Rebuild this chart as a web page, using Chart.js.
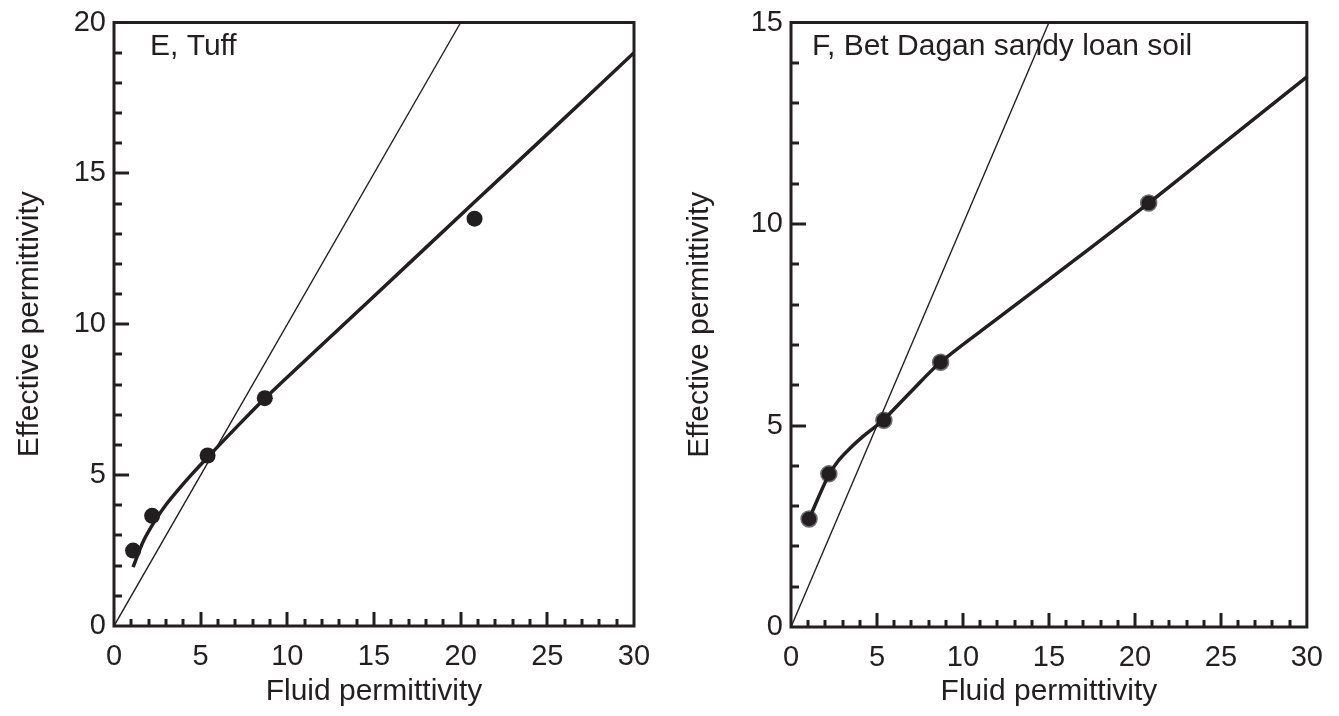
<!DOCTYPE html>
<html><head><meta charset="utf-8">
<script src="https://cdn.jsdelivr.net/npm/chart.js@4.4.1/dist/chart.umd.min.js"></script>
<style>
html,body{margin:0;padding:0;background:#fff;}
#wrap{position:relative;width:1339px;height:716px;overflow:hidden;}
canvas{position:absolute;top:0;}
</style></head><body>
<div id="wrap">
<canvas id="c1" width="670" height="716" style="left:0"></canvas>
<canvas id="c2" width="669" height="716" style="left:670px"></canvas>
</div>
<script>
// ---- data ----
const xTickLabels = [0, 5, 10, 15, 20, 25, 30];
const yTickLabelsE = [0, 5, 10, 15, 20];
const yTickLabelsF = [0, 5, 10, 15];

// Panel E, Tuff
const fluidE = [1.1, 2.2, 5.4, 8.7, 20.8];
const effE   = [2.5, 3.65, 5.65, 7.55, 13.5];
const fitXE  = [1.1, 1.7, 2.4, 3.0, 3.8, 4.6, 5.4, 7.0, 8.7, 12, 15, 20.8, 25, 30];
const fitYE  = [1.95, 2.82, 3.52, 4.02, 4.58, 5.1, 5.59, 6.55, 7.54, 9.32, 10.93, 14.05, 16.3, 19.0];
const refXE  = [0, 20];
const refYE  = [0, 20];

// Panel F, Bet Dagan sandy loan soil
const fluidF = [1.05, 2.2, 5.4, 8.7, 20.8];
const effF   = [2.68, 3.8, 5.13, 6.57, 10.52];
const fitXF  = [1.05, 2.16, 2.74, 3.42, 4.19, 5.35, 7.0, 8.7, 12, 15, 20.8, 25, 30];
const fitYF  = [2.68, 3.74, 4.12, 4.43, 4.73, 5.13, 5.85, 6.57, 7.65, 8.62, 10.52, 11.95, 13.65];
const refXF  = [0, 15];
const refYF  = [0, 15];

const labelE = 'E, Tuff';
const labelF = 'F, Bet Dagan sandy loan soil';
const xTitle = 'Fluid permittivity';
const yTitle = 'Effective permittivity';

// ---- style ----
const INK = '#231f20';
const FONT = "'Liberation Sans', Arial, Helvetica, sans-serif";
const pts = (xs, ys) => xs.map((x, i) => ({x, y: ys[i]}));

const framePlugin = {
  id: 'frame',
  afterDraw(chart, args, opts) {
    const {ctx, chartArea: a, scales: {x, y}} = chart;
    ctx.save();
    ctx.strokeStyle = INK;
    ctx.lineWidth = 3;
    ctx.lineCap = 'butt';
    for (let v = Math.ceil(x.min) + 1; v < x.max; v++) {
      const px = Math.round(x.getPixelForValue(v));
      const len = v % 5 === 0 ? 14 : 7;
      ctx.beginPath(); ctx.moveTo(px, a.bottom); ctx.lineTo(px, a.bottom - len); ctx.stroke();
    }
    for (let v = Math.ceil(y.min) + 1; v < y.max; v++) {
      const py = Math.round(y.getPixelForValue(v));
      const len = v % 5 === 0 ? 15 : 8;
      ctx.beginPath(); ctx.moveTo(a.left, py); ctx.lineTo(a.left + len, py); ctx.stroke();
    }
    ctx.lineJoin = 'miter';
    ctx.strokeRect(a.left, a.top, a.right - a.left, a.bottom - a.top);
    ctx.fillStyle = INK;
    ctx.font = '30px ' + FONT;
    ctx.textBaseline = 'alphabetic';
    ctx.textAlign = 'left';
    ctx.fillText(opts.text, opts.tx, opts.ty);
    ctx.restore();
  }
};

function makeChart(id, cfg) {
  return new Chart(document.getElementById(id), {
    type: 'scatter',
    data: {
      datasets: [
        {data: pts(cfg.refX, cfg.refY), showLine: true, borderColor: INK, borderWidth: 1.4,
         pointRadius: 0, fill: false, tension: 0},
        {data: pts(cfg.fitX, cfg.fitY), showLine: true, borderColor: INK, borderWidth: 3.5,
         pointRadius: 0, fill: false, tension: 0.35},
        {data: pts(cfg.px, cfg.py), showLine: false, pointRadius: 8,
         pointBackgroundColor: INK, pointBorderColor: cfg.ptBorder, pointBorderWidth: cfg.ptBorderW}
      ]
    },
    options: {
      responsive: false,
      animation: false,
      devicePixelRatio: 1,
      layout: {padding: {left: 0, top: cfg.top, right: cfg.right, bottom: 0}},
      plugins: {legend: {display: false}, tooltip: {enabled: false},
        frame: {text: cfg.label, tx: cfg.tx, ty: cfg.ty}},
      scales: {
        x: {
          type: 'linear', min: 0, max: 30,
          afterBuildTicks: s => { s.ticks = xTickLabels.map(v => ({value: v})); },
          afterFit: s => { s.height = 716 - cfg.bottomPx; },
          grid: {display: false, drawTicks: false},
          border: {display: false},
          ticks: {color: INK, font: {family: FONT, size: 29, lineHeight: 1}, padding: 16, maxRotation: 0},
          title: {display: true, text: xTitle, color: INK, font: {family: FONT, size: 30, lineHeight: 1.2},
                  padding: {top: 0, bottom: 6}}
        },
        y: {
          type: 'linear', min: 0, max: cfg.ymax,
          afterBuildTicks: s => { s.ticks = cfg.yTicks.map(v => ({value: v})); },
          afterFit: s => { s.width = cfg.leftPx; },
          grid: {display: false, drawTicks: false},
          border: {display: false},
          ticks: {color: INK, font: {family: FONT, size: 29, lineHeight: 1}, padding: 8},
          title: {display: true, text: yTitle, color: INK, font: {family: FONT, size: 30, lineHeight: 1.2},
                  padding: {top: 12, bottom: 0}}
        }
      }
    },
    plugins: [framePlugin]
  });
}

makeChart('c1', {
  refX: refXE, refY: refYE, fitX: fitXE, fitY: fitYE, px: fluidE, py: effE,
  ptBorder: INK, ptBorderW: 0, ymax: 20, yTicks: yTickLabelsE,
  top: 16, right: 670 - 634, leftPx: 114, bottomPx: 626,
  label: labelE, tx: 150, ty: 55
});
makeChart('c2', {
  refX: refXF, refY: refYF, fitX: fitXF, fitY: fitYF, px: fluidF, py: effF,
  ptBorder: '#6d6e71', ptBorderW: 1.5, ymax: 15, yTicks: yTickLabelsF,
  top: 17, right: 669 - 639, leftPx: 121, bottomPx: 627,
  label: labelF, tx: 142, ty: 55
});
</script>
</body></html>
